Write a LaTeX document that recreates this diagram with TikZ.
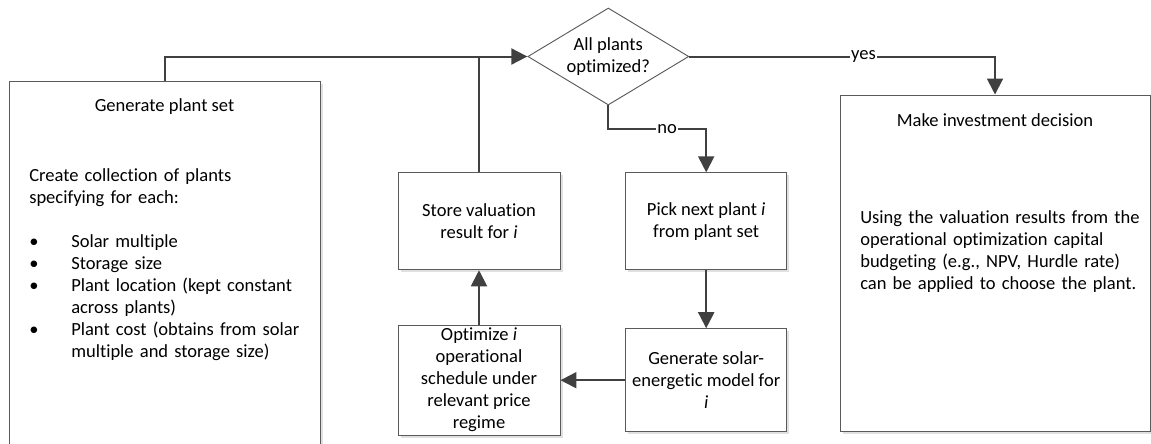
\documentclass[tikz,border=0pt]{standalone}
\usepackage{fontspec}
\setmainfont{Carlito}[Ligatures=NoCommon]
\usetikzlibrary{shapes.geometric,arrows.meta,shadows}
\definecolor{linegray}{HTML}{404040}
\definecolor{boxgray}{HTML}{5A5A5A}
\newenvironment{plantitems}{\begin{list}{\textbullet}{%
  \setlength{\leftmargin}{31.5pt}\setlength{\labelwidth}{31.5pt}%
  \setlength{\labelsep}{0pt}\setlength{\topsep}{0pt}%
  \setlength{\partopsep}{0pt}\setlength{\parsep}{0pt}%
  \setlength{\itemsep}{0pt}\renewcommand{\makelabel}[1]{##1\hfil}}}%
  {\end{list}}
\begin{document}
\begin{tikzpicture}[x=0.75pt,y=-0.75pt,
  font=\fontsize{13.9}{16.5}\selectfont,
  box/.style={draw=boxgray,line width=0.7pt,fill=white,align=center,inner sep=1pt,
    drop shadow={shadow xshift=2pt,shadow yshift=-2pt,fill=black!12,opacity=1}},
  flow/.style={draw=linegray,line width=1.5pt,-{Triangle[length=12pt,width=12pt]}},
  link/.style={draw=linegray,line width=1.5pt},
  lbl/.style={fill=white,inner sep=1pt}]
\useasboundingbox (0,0) rectangle (1151,443);
% outer boxes
\node[box,anchor=north,minimum width=233.25pt,minimum height=290pt] (plantset) at (164.5,81) {};
\node at (164.5,107) (plantsettitle) {Generate plant set};
\node[anchor=north west,inner sep=0pt,text width=215pt,align=left] at (29,168) (plantsetbody) {Create collection of plants\\
specifying for each:\par\vspace{\baselineskip}
\begin{plantitems}
\item Solar multiple
\item Storage size
\item Plant location (kept constant\\across plants)
\item Plant cost (obtains from solar\\multiple and storage size)
\end{plantitems}};
\node[box,minimum width=232.5pt,minimum height=252.5pt] (decision) at (995,263.3) {};
\node at (995,120) (decisiontitle) {Make investment decision};
\node[anchor=north west,inner sep=0pt,text width=220pt,align=left] at (860,210) (decisionbody) {Using the valuation results from the\\
operational optimization capital\\
budgeting (e.g., NPV, Hurdle rate)\\
can be applied to choose the plant.};
% loop
\node[draw=boxgray,line width=0.7pt,diamond,aspect=1.66,minimum width=120.75pt,minimum height=72.75pt,inner sep=0pt,align=center] at (608.3,56.5) (optimized) {All plants\\optimized?};
\node[box,minimum width=121.5pt,minimum height=72.75pt] at (479,221.3) (store) {Store valuation\\result for \textit{i}};
\node[box,minimum width=120.75pt,minimum height=72.75pt] at (706.2,221.3) (pick) {Pick next plant \textit{i}\\from plant set};
\node[box,minimum width=121.5pt,minimum height=82.5pt,inner sep=0pt] at (479,380) (optimize) {Optimize \textit{i}\\operational\\schedule under\\relevant price\\regime};
\node[box,minimum width=120.75pt,minimum height=77.25pt] at (706.2,380.2) (solar) {Generate solar-\\energetic model for\\\textit{i}};
\coordinate (nobend) at (608.3,129);
\draw[flow] (plantset.north) to (plantset.north |- optimized.west) to (optimized.west);
\draw[link] (store.north) to (store.north |- optimized.west);
\draw[flow] (optimized.east) -- node[lbl,pos=0.57] {yes} (decision.north |- optimized.east) -- (decision.north);
\draw[flow] (optimized.south) -- (nobend) -- node[lbl,pos=0.6] {no} (nobend -| pick.north) -- (pick.north);
\draw[flow] (pick) to (solar);
\draw[flow] (solar.west) to (solar.west -| optimize.east);
\draw[flow] (optimize) to (store);
\end{tikzpicture}
\end{document}
